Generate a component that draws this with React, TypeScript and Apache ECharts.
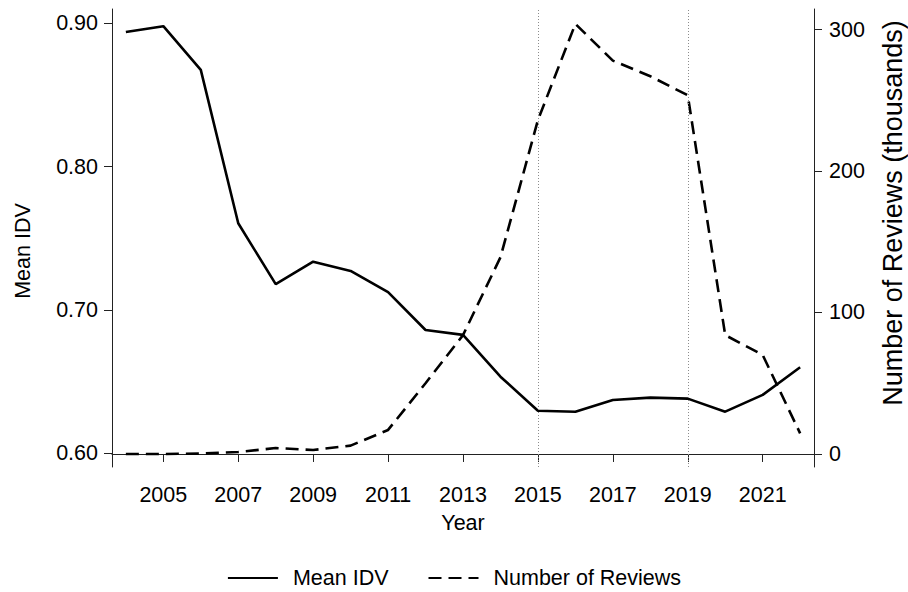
import React, { useEffect, useRef } from "react";
import * as echarts from "echarts";

const years = [2004, 2005, 2006, 2007, 2008, 2009, 2010, 2011, 2012, 2013, 2014, 2015, 2016, 2017, 2018, 2019, 2020, 2021, 2022];
const meanIDV = [0.894, 0.898, 0.8675, 0.7605, 0.718, 0.7337, 0.7272, 0.7124, 0.686, 0.6826, 0.6534, 0.6297, 0.629, 0.6372, 0.6388, 0.6381, 0.629, 0.6407, 0.66];
const reviews = [0, 0, 0.3, 1.4, 4.2, 2.8, 5.9, 17, 50, 84, 139, 236, 304, 278, 267, 253.5, 84, 70, 14.6];
const xTicks = [2005, 2007, 2009, 2011, 2013, 2015, 2017, 2019, 2021];
const leftTicks = [0.6, 0.7, 0.8, 0.9];
const rightTicks = [0, 100, 200, 300];
const refYears = [2015, 2019];

const FONT = "'Liberation Sans', Arial, Helvetica, sans-serif";
const FS = 21.5;

export default function App() {
  const ref = useRef<HTMLDivElement>(null);
  useEffect(() => {
    if (!ref.current) return;
    const chart = echarts.init(ref.current, null, { renderer: "svg" });
    const axisLineStyle = { color: "#222", width: 1 };
    chart.setOption({
      animation: false,
      backgroundColor: "#fff",
      textStyle: { fontFamily: FONT },
      grid: { left: 112, right: 94, top: 9, bottom: 125 },
      legend: {
        left: "center",
        top: 562,
        itemWidth: 50,
        itemHeight: 14,
        itemGap: 39,
        itemStyle: { opacity: 0 },
        textStyle: { fontSize: FS, color: "#000", fontFamily: FONT, padding: [0, 0, 0, 10] },
        data: ["Mean IDV", "Number of Reviews"],
      },
      xAxis: {
        type: "value",
        min: 2003.63,
        max: 2022.37,
        name: "Year",
        nameLocation: "middle",
        nameGap: 45,
        nameTextStyle: { fontSize: FS, color: "#000", fontFamily: FONT },
        axisLine: { show: true, lineStyle: axisLineStyle },
        axisTick: { show: true, length: 8, customValues: xTicks, lineStyle: axisLineStyle },
        axisLabel: { customValues: xTicks, fontSize: FS, color: "#000", margin: 17, fontFamily: FONT, formatter: (v: number) => String(v) },
        splitLine: { show: false },
      },
      yAxis: [
        {
          type: "value",
          position: "left",
          min: 0.5904,
          max: 0.91,
          axisLine: { show: true, lineStyle: axisLineStyle },
          axisTick: { show: true, length: 8, customValues: leftTicks, lineStyle: axisLineStyle },
          axisLabel: { customValues: leftTicks, fontSize: FS, color: "#000", margin: 14, fontFamily: FONT, formatter: (v: number) => v.toFixed(2) },
          splitLine: { show: false },
        },
        {
          type: "value",
          position: "right",
          min: -9.2,
          max: 314.5,
          axisLine: { show: true, lineStyle: axisLineStyle },
          axisTick: { show: true, length: 8, customValues: rightTicks, lineStyle: axisLineStyle },
          axisLabel: { customValues: rightTicks, fontSize: FS, color: "#000", margin: 15, fontFamily: FONT, formatter: (v: number) => String(Math.round(v)) },
          splitLine: { show: false },
        },
      ],
      graphic: [
        {
          type: "text",
          x: 23,
          y: 251,
          rotation: Math.PI / 2,
          style: { text: "Mean IDV", fontSize: FS, fill: "#000", fontFamily: FONT, align: "center", verticalAlign: "middle" },
        },
        {
          type: "text",
          x: 893,
          y: 213,
          rotation: Math.PI / 2,
          style: { text: "Number of Reviews (thousands)", fontSize: 27, fill: "#000", fontFamily: FONT, align: "center", verticalAlign: "middle" },
        },
      ],
      series: [
        {
          name: "Mean IDV",
          type: "line",
          xAxisIndex: 0,
          yAxisIndex: 0,
          symbol: "none",
          lineStyle: { color: "#000", width: 2.6, type: "solid" },
          itemStyle: { color: "#000" },
          data: years.map((y, i) => [y, meanIDV[i]]),
          markLine: {
            silent: true,
            symbol: ["none", "none"],
            label: { show: false },
            lineStyle: { color: "#8c8c8c", width: 1, type: [1, 2] },
            data: refYears.map((y) => ({ xAxis: y })),
          },
          z: 3,
        },
        {
          name: "Number of Reviews",
          type: "line",
          xAxisIndex: 0,
          yAxisIndex: 1,
          symbol: "none",
          lineStyle: { color: "#000", width: 2.6, type: [13, 7] },
          itemStyle: { color: "#000" },
          data: years.map((y, i) => [y, reviews[i]]),
          z: 3,
        },
      ],
    });
    return () => chart.dispose();
  }, []);
  return <div ref={ref} style={{ width: 908, height: 592, position: "absolute", left: 0, top: 0 }} />;
}
